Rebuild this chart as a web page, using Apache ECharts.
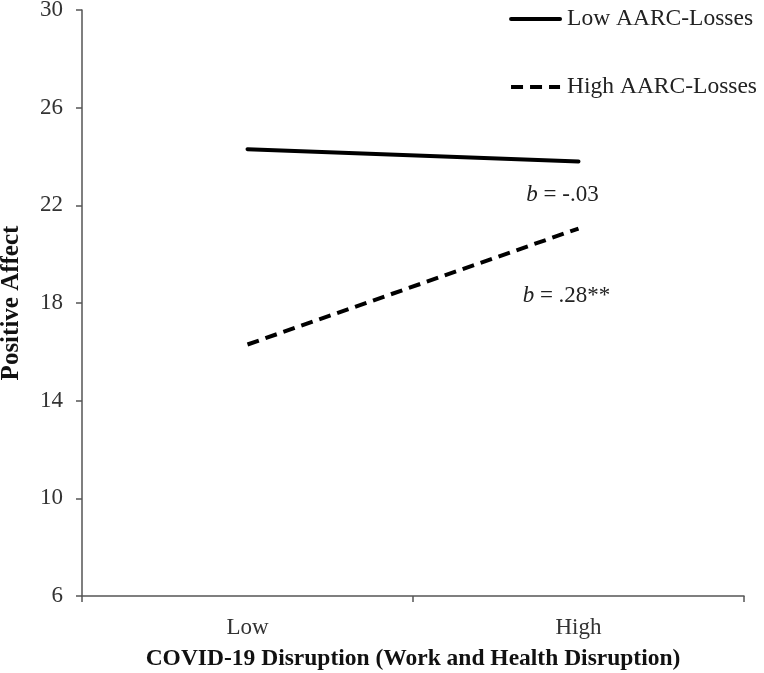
<!DOCTYPE html>
<html>
<head>
<meta charset="utf-8">
<script src="https://cdn.jsdelivr.net/npm/echarts@6/dist/echarts.min.js"></script>
<style>html,body{margin:0;padding:0;background:#fff;}#c{width:764px;height:673px;}</style>
</head>
<body>
<div id="c"></div>
<script>
var categories = ['Low', 'High'];
var lowLosses = [24.3, 23.8];
var highLosses = [16.3, 21.05];
var seriesNames = ['Low AARC-Losses', 'High AARC-Losses'];
var slopeLabels = ['-.03', '.28**'];
var yTicks = [6, 10, 14, 18, 22, 26, 30];

var FONT = '"Liberation Serif", "Times New Roman", serif';
var chart = echarts.init(document.getElementById('c'));
function endLabel(txt, off) {
  return {
    show: true,
    position: 'bottom',
    distance: 5,
    offset: off,
    formatter: function () { return '{i|b} = ' + txt; },
    fontFamily: FONT, fontSize: 23, color: '#222',
    rich: { i: { fontStyle: 'italic', fontFamily: FONT, fontSize: 23, color: '#222' } }
  };
}
chart.setOption({
  animation: false,
  grid: { left: 82, right: 20, top: 10, bottom: 77, outerBoundsMode: 'none', containLabel: false },
  legend: {
    orient: 'vertical', right: 7, top: 2, padding: [5, 0, 5, 5],
    itemWidth: 49, itemHeight: 14, itemGap: 44,
    itemStyle: { color: 'transparent', borderWidth: 0, opacity: 0 },
    lineStyle: { width: 4, color: '#000' },
    textStyle: { fontFamily: FONT, fontSize: 23.5, color: '#222', padding: [0, 0, 0, 2] },
    data: seriesNames
  },
  xAxis: {
    type: 'category', data: categories, boundaryGap: true,
    axisLine: { lineStyle: { color: '#555', width: 1.5 } },
    axisTick: { show: true, alignWithLabel: false, length: 6, lineStyle: { color: '#555', width: 1.5 } },
    axisLabel: { fontFamily: FONT, fontSize: 23, color: '#333', margin: 20 },
    name: 'COVID-19 Disruption (Work and Health Disruption)',
    nameLocation: 'middle', nameGap: 51,
    nameTextStyle: { fontFamily: FONT, fontSize: 23.5, fontWeight: 'bold', color: '#111' }
  },
  yAxis: {
    type: 'value', min: yTicks[0], max: yTicks[yTicks.length - 1], interval: 4,
    axisLine: { show: true, lineStyle: { color: '#555', width: 1.5 } },
    axisTick: { show: true, length: 6, lineStyle: { color: '#555', width: 1.5 } },
    axisLabel: { fontFamily: FONT, fontSize: 23, color: '#333', margin: 19 },
    splitLine: { show: false },
    name: 'Positive Affect', nameLocation: 'middle', nameGap: 58,
    nameTextStyle: { fontFamily: FONT, fontSize: 25, fontWeight: 'bold', color: '#111' }
  },
  series: [
    {
      name: seriesNames[0], type: 'line', symbol: 'circle', symbolSize: 0.01, showSymbol: true,
      lineStyle: { color: '#000', width: 4, type: 'solid', cap: 'round' },
      itemStyle: { color: '#000' },
      data: [lowLosses[0], { value: lowLosses[1], label: endLabel(slopeLabels[0], [-16, 17]) }]
    },
    {
      name: seriesNames[1], type: 'line', symbol: 'circle', symbolSize: 0.01, showSymbol: true,
      lineStyle: { color: '#000', width: 4, type: [12, 7] },
      itemStyle: { color: '#000' },
      data: [highLosses[0], { value: highLosses[1], label: endLabel(slopeLabels[1], [-12, 51]) }]
    }
  ]
});
</script>
</body>
</html>
